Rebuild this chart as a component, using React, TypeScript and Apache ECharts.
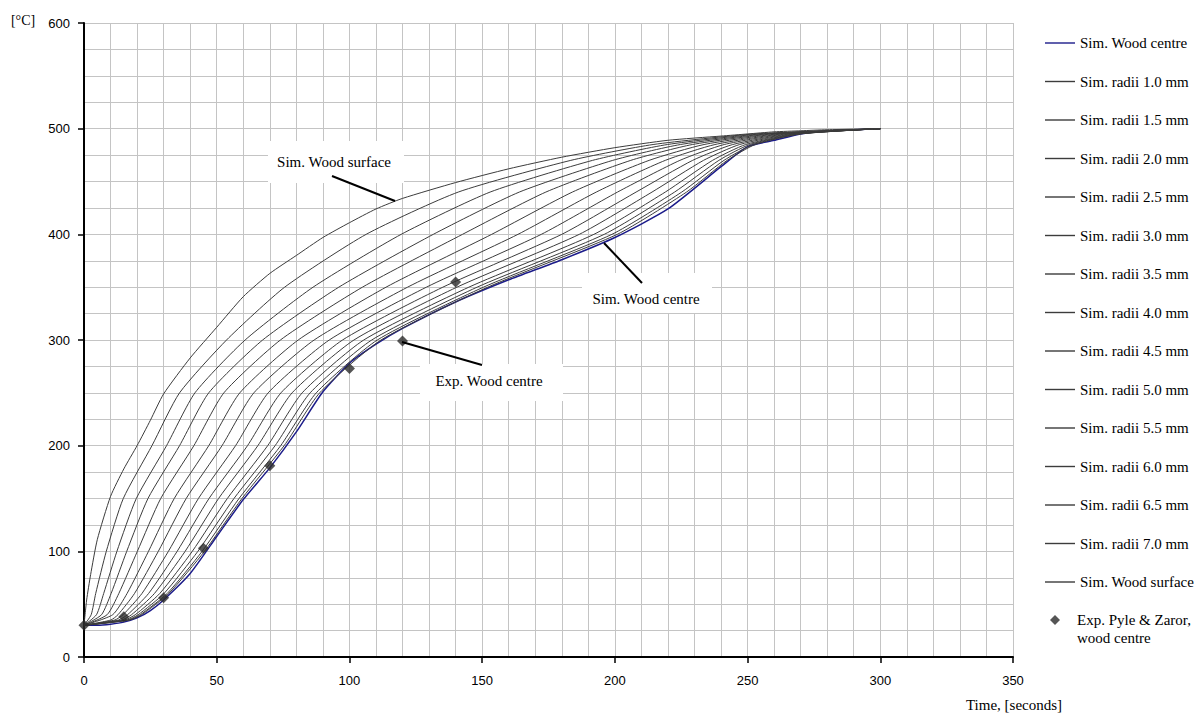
import React, { useEffect, useRef } from "react";
import * as echarts from "echarts";

// ---- data ----
const timeGrid = [0, 5, 10, 15, 20, 25, 30, 40, 50, 60, 70, 80, 90, 100, 110, 120, 140, 160, 180, 200, 220, 240, 250, 260, 270, 280, 300];
const centreTemp = [30, 30, 31, 33, 37, 44, 54, 79, 114, 149, 179, 213, 251, 278, 296, 311, 336, 357, 376, 397, 424, 464, 483, 489, 495, 498, 500];

const surfaceTime = [0, 1, 2.5, 5, 10, 15, 20, 25, 30, 40, 50, 60, 70, 80, 90, 100, 110, 120, 140, 160, 180, 200, 220, 240, 250, 260, 270, 280, 300];
const surfaceTemp = [30, 54, 78, 111, 152, 178, 200, 224, 249, 283, 312, 341, 363, 380, 397, 411, 424, 434, 449, 462, 473, 482, 489, 493, 495, 497, 498, 499, 500];

// temperature levels and the time (s) at which each radius line reaches them
const levelsOuter = [30, 40, 60, 100, 150, 200, 250, 300, 350, 400, 440, 470, 485, 495, 500];
const levelsInner = [30, 35, 40, 60, 100, 150, 200, 250, 300, 350, 400, 440, 470, 485, 495, 500];

const r70 = [0, 2.7, 4.4, 8.4, 14.8, 25.6, 36, 53.7, 75.6, 106.3, 141, 183.4, 214.4, 252.6, 300];
const r65 = [0, 4.7, 7.4, 12.4, 19.7, 31.1, 41.8, 60.7, 86.3, 119.5, 153, 191.6, 219.8, 255, 300];
const r60 = [0, 6.6, 10.2, 16.1, 24.1, 36.0, 47.0, 67.3, 96.0, 131.6, 164, 199.2, 224.7, 257.2, 300];
const r55 = [0, 8.7, 13.1, 20.1, 28.9, 41.4, 52.7, 74.0, 104.9, 142.6, 174, 206.0, 229.2, 259.2, 300];
const r50 = [0, 10.8, 16.2, 24.3, 34.0, 47.0, 58.7, 80.7, 113.8, 153.6, 184, 212.9, 233.6, 261.2, 300];
const r45 = [0, 10.1, 12.8, 19.0, 28.0, 38.5, 52.0, 64.0, 86.7, 121.9, 163.5, 193, 219.0, 237.7, 263, 300];
const r40 = [0, 11.6, 14.7, 21.8, 31.8, 43.1, 57.1, 69.4, 92.4, 129.0, 172.3, 201, 224.5, 241.2, 264.6, 300];
const r35 = [0, 13.0, 16.4, 24.3, 35.1, 47.1, 61.6, 74.2, 97.4, 135.2, 180, 208, 229.3, 244.4, 266, 300];
const r30 = [0, 14.2, 17.9, 26.5, 38.1, 50.7, 65.5, 78.4, 101.7, 140.5, 186.6, 214, 233.4, 247.0, 267.2, 300];
const r25 = [0, 15.3, 19.3, 28.5, 40.8, 54.0, 69.2, 82.2, 105.4, 145.0, 192.1, 219, 236.8, 249.3, 268.2, 300];
const r20 = [0, 16.2, 20.4, 30.1, 42.9, 56.5, 72.0, 85.2, 108.4, 148.1, 196.0, 222.5, 239.2, 250.8, 268.9, 300];
const r15 = [0, 16.9, 21.2, 31.3, 44.5, 58.4, 74.1, 87.5, 110.5, 150.5, 198.9, 225.2, 241.1, 252.1, 269.4, 300];
const r10 = [0, 17.2, 21.7, 31.9, 45.4, 59.5, 75.4, 88.8, 111.9, 152.1, 200.9, 227, 242.3, 252.9, 269.8, 300];

const radiiNames = ["Sim. radii 1.0 mm", "Sim. radii 1.5 mm", "Sim. radii 2.0 mm", "Sim. radii 2.5 mm", "Sim. radii 3.0 mm", "Sim. radii 3.5 mm", "Sim. radii 4.0 mm", "Sim. radii 4.5 mm", "Sim. radii 5.0 mm", "Sim. radii 5.5 mm", "Sim. radii 6.0 mm", "Sim. radii 6.5 mm", "Sim. radii 7.0 mm"];
const radiiTimes = [r10, r15, r20, r25, r30, r35, r40, r45, r50, r55, r60, r65, r70];

const expTime = [0, 15, 30, 45, 70, 100, 120, 140];
const expTemp = [30, 38, 56, 103, 181, 273, 299, 355];

const centreName = "Sim. Wood centre";
const surfaceName = "Sim. Wood surface";
const expName = "Exp. Pyle & Zaror, wood centre";

const xTicks = [0, 350, 50];
const yTicks = [0, 600, 100];

const SERIF = "'Liberation Serif', 'Times New Roman', serif";
const SANS = "'Liberation Sans', Arial, sans-serif";

export default function App() {
  const ref = useRef<HTMLDivElement>(null);
  useEffect(() => {
    if (!ref.current) return;
    const chart = echarts.init(ref.current, null, { renderer: "svg" });
    const lineColor = "#3c3c3c";
    const radiiSeries = radiiTimes.map((times, i) => {
      const lv = times.length === levelsInner.length ? levelsInner : levelsOuter;
      return {
        name: radiiNames[i],
        type: "line",
        symbol: "none",
        smooth: 0.2,
        color: lineColor,
        lineStyle: { color: lineColor, width: 1 },
        data: times.map((t, j) => [t, lv[j]]),
        z: 3,
      };
    });
    const option: any = {
      animation: false,
      grid: { left: 84, top: 23, right: 190, bottom: 56, containLabel: false },
      xAxis: {
        type: "value",
        min: xTicks[0],
        max: xTicks[1],
        interval: xTicks[2],
        axisLine: { show: true, lineStyle: { color: "#000", width: 2 } },
        axisTick: { show: true, length: 6, lineStyle: { color: "#000", width: 1.5 } },
        axisLabel: { color: "#000", fontFamily: SANS, fontSize: 13, margin: 17 },
        splitLine: { show: true, lineStyle: { color: "#c4c4c4", width: 1 } },
        minorTick: { show: false, splitNumber: 5 },
        minorSplitLine: { show: true, lineStyle: { color: "#c4c4c4", width: 1 } },
      },
      yAxis: {
        type: "value",
        min: yTicks[0],
        max: yTicks[1],
        interval: yTicks[2],
        axisLine: { show: true, lineStyle: { color: "#000", width: 2 } },
        axisTick: { show: true, length: 6, lineStyle: { color: "#000", width: 1.5 } },
        axisLabel: { color: "#000", fontFamily: SANS, fontSize: 13, margin: 14 },
        splitLine: { show: true, lineStyle: { color: "#c4c4c4", width: 1 } },
        minorTick: { show: false, splitNumber: 4 },
        minorSplitLine: { show: true, lineStyle: { color: "#c4c4c4", width: 1 } },
      },
      legend: [
        {
          orient: "vertical",
          left: 1045,
          top: 35,
          padding: 0,
          icon: "rect",
          itemWidth: 30,
          itemHeight: 1.4,
          itemGap: 22.5,
          textStyle: { fontFamily: SERIF, fontSize: 15, color: "#000", lineHeight: 16 },
          data: [centreName, ...radiiNames, surfaceName],
        },
        {
          orient: "vertical",
          left: 1050,
          top: 612,
          padding: 0,
          itemWidth: 10,
          itemHeight: 10,
          textStyle: { fontFamily: SERIF, fontSize: 15, color: "#000", lineHeight: 16, padding: [0, 0, 0, 12] },
          formatter: () => "Exp. Pyle & Zaror,",
          data: [expName],
        },
      ],
      series: [
        {
          name: centreName,
          type: "line",
          symbol: "none",
          smooth: 0.2,
          color: "#1c1c8a",
          lineStyle: { color: "#1c1c8a", width: 1.5 },
          data: timeGrid.map((t, i) => [t, centreTemp[i]]),
          z: 2,
        },
        ...radiiSeries,
        {
          name: surfaceName,
          type: "line",
          symbol: "none",
          smooth: 0.2,
          color: lineColor,
          lineStyle: { color: lineColor, width: 1 },
          data: surfaceTime.map((t, i) => [t, surfaceTemp[i]]),
          z: 3,
        },
        {
          name: expName,
          type: "scatter",
          symbol: "diamond",
          symbolSize: 11,
          color: "#2b2b2b",
          itemStyle: { color: "#2b2b2b" },
          data: expTime.map((t, i) => [t, expTemp[i]]),
          z: 5,
        },
      ],
      graphic: [
        { type: "text", x: 1077, y: 638, style: { text: "wood centre", font: `15px ${SERIF}`, fill: "#000", verticalAlign: "middle" } },
        { type: "text", x: 23, y: 20, style: { text: "[°C]", font: `14px ${SERIF}`, fill: "#000", align: "center", verticalAlign: "middle" } },
        { type: "text", x: 1014, y: 705, style: { text: "Time, [seconds]", font: `15px ${SERIF}`, fill: "#000", align: "center", verticalAlign: "middle" } },
        // annotation: surface
        { type: "rect", z: 1, shape: { x: 268, y: 141, width: 136, height: 42 }, style: { fill: "#fff" } },
        { type: "text", z: 10, x: 334, y: 162, style: { text: "Sim. Wood surface", font: `15px ${SERIF}`, fill: "#000", align: "center", verticalAlign: "middle" } },
        { type: "line", z: 10, shape: { x1: 332, y1: 176, x2: 395, y2: 201 }, style: { stroke: "#000", lineWidth: 2 } },
        // annotation: centre
        { type: "rect", z: 1, shape: { x: 582, y: 273, width: 130, height: 40 }, style: { fill: "#fff" } },
        { type: "text", z: 10, x: 646, y: 299, style: { text: "Sim. Wood centre", font: `15px ${SERIF}`, fill: "#000", align: "center", verticalAlign: "middle" } },
        { type: "line", z: 10, shape: { x1: 604, y1: 243, x2: 642, y2: 283 }, style: { stroke: "#000", lineWidth: 2 } },
        // annotation: experimental
        { type: "rect", z: 1, shape: { x: 420, y: 364, width: 143, height: 37 }, style: { fill: "#fff" } },
        { type: "text", z: 10, x: 489, y: 381, style: { text: "Exp. Wood centre", font: `15px ${SERIF}`, fill: "#000", align: "center", verticalAlign: "middle" } },
        { type: "line", z: 10, shape: { x1: 402, y1: 342, x2: 482, y2: 365 }, style: { stroke: "#000", lineWidth: 2 } },
      ],
    };
    chart.setOption(option);
    return () => chart.dispose();
  }, []);
  return (
    <div
      ref={ref}
      style={{ position: "absolute", left: 0, top: 0, width: 1203, height: 713, background: "#fff" }}
    />
  );
}
